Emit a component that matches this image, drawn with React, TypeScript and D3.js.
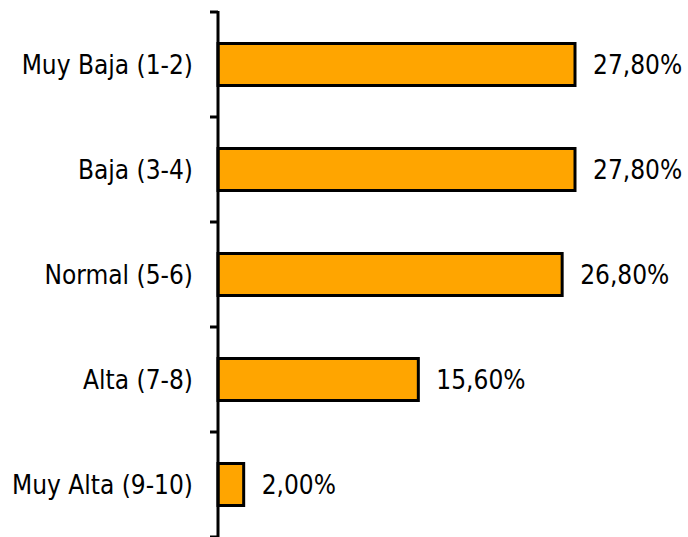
import React from "react";
import * as d3 from "d3";

const categories = ["Muy Baja (1-2)", "Baja (3-4)", "Normal (5-6)", "Alta (7-8)", "Muy Alta (9-10)"];
const values = [27.8, 27.8, 26.8, 15.6, 2.0];
const valueLabels = ["27,80%", "27,80%", "26,80%", "15,60%", "2,00%"];

const W = 688;
const H = 537;
const FONT = "'DejaVu Sans Condensed', 'DejaVu Sans', sans-serif";

export default function App() {
  const axisX = 218;
  const top = 12;
  const bottom = 537;
  const y = d3.scaleBand<string>().domain(categories).range([top, bottom]).paddingInner(0.6).paddingOuter(0.3);
  const x = d3.scaleLinear().domain([0, 27.8]).range([axisX, 575]);
  const step = y.step();
  const ticks = d3.range(categories.length + 1).map((i) => top + i * step);

  return (
    <svg width={W} height={H} style={{ position: "absolute", left: 0, top: 0, background: "#fff" }}>
      {categories.map((c, i) => (
        <g key={c}>
          <rect
            x={x(0)}
            y={y(c)!}
            width={x(values[i]) - x(0)}
            height={y.bandwidth()}
            fill="#FFA500"
            stroke="#000"
            strokeWidth={3}
          />
          <text
            x={x(values[i]) + 18}
            y={y(c)! + y.bandwidth() / 2}
            dominantBaseline="central"
            fontFamily={FONT}
            fontSize={26}
            fill="#000"
          >
            {valueLabels[i]}
          </text>
          <text
            x={axisX - 25}
            y={y(c)! + y.bandwidth() / 2}
            dominantBaseline="central"
            textAnchor="end"
            fontFamily={FONT}
            fontSize={26}
            fill="#000"
          >
            {c}
          </text>
        </g>
      ))}
      <line x1={axisX} x2={axisX} y1={top - 1} y2={bottom} stroke="#000" strokeWidth={3} />
      {ticks.map((t) => (
        <line key={t} x1={axisX - 8} x2={axisX} y1={t} y2={t} stroke="#000" strokeWidth={3} />
      ))}
    </svg>
  );
}
